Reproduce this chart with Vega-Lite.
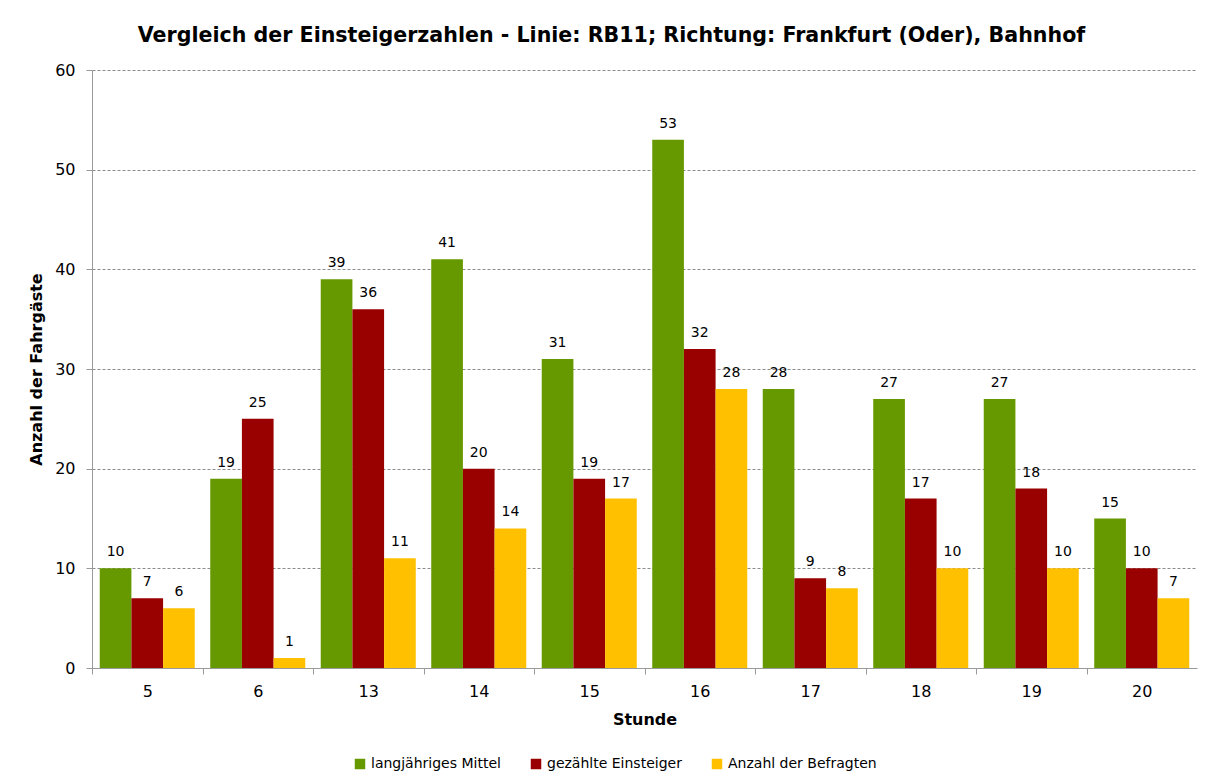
{
  "$schema": "https://vega.github.io/schema/vega-lite/v6.json",
  "autosize": "none",
  "width": 1105,
  "height": 598,
  "padding": {"left": 92, "top": 70, "right": 11, "bottom": 115},
  "background": "white",
  "title": {
    "text": "Vergleich der Einsteigerzahlen - Linie: RB11; Richtung: Frankfurt (Oder), Bahnhof",
    "font": "DejaVu Sans",
    "fontSize": 20.6,
    "fontWeight": "bold",
    "color": "black",
    "anchor": "middle",
    "dx": -33,
    "offset": 15
  },
  "data": {
    "values": [
      {"Stunde": "5", "Reihe": "langjähriges Mittel", "Wert": 10},
      {"Stunde": "5", "Reihe": "gezählte Einsteiger", "Wert": 7},
      {"Stunde": "5", "Reihe": "Anzahl der Befragten", "Wert": 6},
      {"Stunde": "6", "Reihe": "langjähriges Mittel", "Wert": 19},
      {"Stunde": "6", "Reihe": "gezählte Einsteiger", "Wert": 25},
      {"Stunde": "6", "Reihe": "Anzahl der Befragten", "Wert": 1},
      {"Stunde": "13", "Reihe": "langjähriges Mittel", "Wert": 39},
      {"Stunde": "13", "Reihe": "gezählte Einsteiger", "Wert": 36},
      {"Stunde": "13", "Reihe": "Anzahl der Befragten", "Wert": 11},
      {"Stunde": "14", "Reihe": "langjähriges Mittel", "Wert": 41},
      {"Stunde": "14", "Reihe": "gezählte Einsteiger", "Wert": 20},
      {"Stunde": "14", "Reihe": "Anzahl der Befragten", "Wert": 14},
      {"Stunde": "15", "Reihe": "langjähriges Mittel", "Wert": 31},
      {"Stunde": "15", "Reihe": "gezählte Einsteiger", "Wert": 19},
      {"Stunde": "15", "Reihe": "Anzahl der Befragten", "Wert": 17},
      {"Stunde": "16", "Reihe": "langjähriges Mittel", "Wert": 53},
      {"Stunde": "16", "Reihe": "gezählte Einsteiger", "Wert": 32},
      {"Stunde": "16", "Reihe": "Anzahl der Befragten", "Wert": 28},
      {"Stunde": "17", "Reihe": "langjähriges Mittel", "Wert": 28},
      {"Stunde": "17", "Reihe": "gezählte Einsteiger", "Wert": 9},
      {"Stunde": "17", "Reihe": "Anzahl der Befragten", "Wert": 8},
      {"Stunde": "18", "Reihe": "langjähriges Mittel", "Wert": 27},
      {"Stunde": "18", "Reihe": "gezählte Einsteiger", "Wert": 17},
      {"Stunde": "18", "Reihe": "Anzahl der Befragten", "Wert": 10},
      {"Stunde": "19", "Reihe": "langjähriges Mittel", "Wert": 27},
      {"Stunde": "19", "Reihe": "gezählte Einsteiger", "Wert": 18},
      {"Stunde": "19", "Reihe": "Anzahl der Befragten", "Wert": 10},
      {"Stunde": "20", "Reihe": "langjähriges Mittel", "Wert": 15},
      {"Stunde": "20", "Reihe": "gezählte Einsteiger", "Wert": 10},
      {"Stunde": "20", "Reihe": "Anzahl der Befragten", "Wert": 7}
    ]
  },
  "encoding": {
    "x": {
      "field": "Stunde",
      "type": "nominal",
      "sort": null,
      "scale": {"paddingInner": 0.14, "paddingOuter": 0.07},
      "axis": {
        "title": "Stunde",
        "labelAngle": 0,
        "tickOffset": -55.25,
        "labelOffset": 55.25,
        "tickSize": 6,
        "labelPadding": 9,
        "titlePadding": 12
      }
    },
    "xOffset": {
      "field": "Reihe",
      "type": "nominal",
      "sort": ["langjähriges Mittel", "gezählte Einsteiger", "Anzahl der Befragten"]
    },
    "y": {
      "field": "Wert",
      "type": "quantitative",
      "scale": {"domain": [0, 60], "nice": false},
      "axis": {
        "title": "Anzahl der Fahrgäste",
        "values": [0, 10, 20, 30, 40, 50, 60],
        "tickSize": 6,
        "labelPadding": 11,
        "titlePadding": 10,
        "grid": true,
        "gridDash": [3, 2],
        "gridColor": "#8c8c8c"
      }
    }
  },
  "layer": [
    {
      "mark": {"type": "bar"},
      "encoding": {
        "color": {
          "field": "Reihe",
          "type": "nominal",
          "sort": ["langjähriges Mittel", "gezählte Einsteiger", "Anzahl der Befragten"],
          "scale": {
            "domain": ["langjähriges Mittel", "gezählte Einsteiger", "Anzahl der Befragten"],
            "range": ["#669900", "#990000", "#ffc000"]
          },
          "legend": {
            "title": null,
            "orient": "none",
            "direction": "horizontal",
            "legendX": 261,
            "legendY": 687,
            "symbolType": "square",
            "symbolSize": 110,
            "symbolStrokeWidth": 0,
            "labelFontSize": 14,
            "labelFont": "DejaVu Sans",
            "labelColor": "black",
            "columnPadding": 28,
            "labelOffset": 4
          }
        }
      }
    },
    {
      "mark": {
        "type": "text",
        "baseline": "bottom",
        "dy": -9,
        "fontSize": 14,
        "font": "DejaVu Sans",
        "color": "black"
      },
      "encoding": {
        "text": {"field": "Wert", "type": "quantitative"}
      }
    }
  ],
  "config": {
    "view": {"stroke": null},
    "axis": {
      "labelFont": "DejaVu Sans",
      "labelFontSize": 16,
      "labelColor": "black",
      "titleFont": "DejaVu Sans",
      "titleFontSize": 16,
      "titleFontWeight": "bold",
      "titleColor": "black",
      "domainColor": "#9a9a9a",
      "tickColor": "#9a9a9a"
    },
    "axisX": {"grid": false}
  }
}
